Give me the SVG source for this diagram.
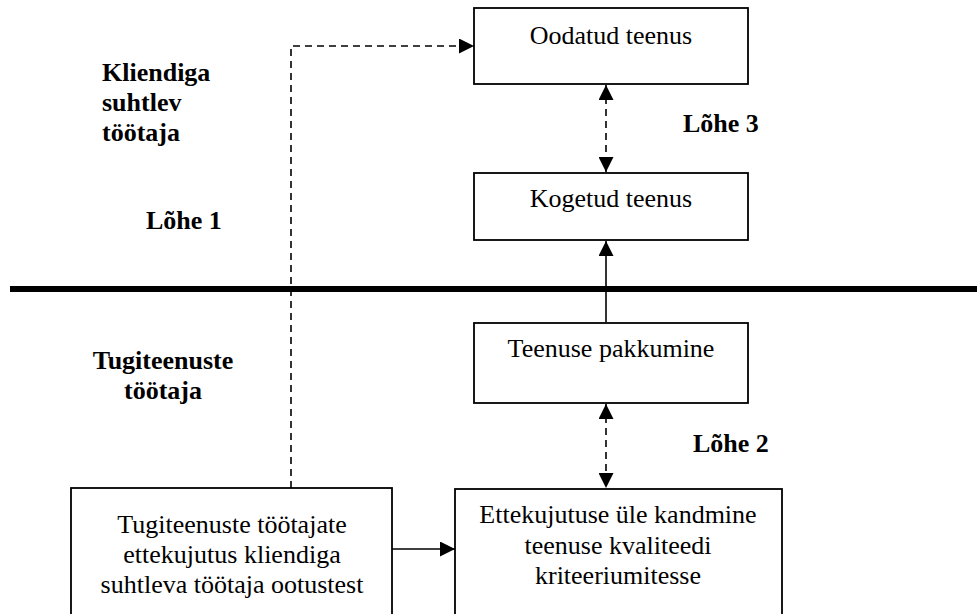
<svg xmlns="http://www.w3.org/2000/svg" width="977" height="614" viewBox="0 0 977 614">
  <style>
    .box { fill: #fff; stroke: #000; stroke-width: 1.8; }
    .txt { font-family: "Liberation Serif", "Times New Roman", serif; font-size: 26px; fill: #000; }
    .mid { text-anchor: middle; }
    .lbl { font-family: "Liberation Serif", "Times New Roman", serif; font-size: 26px; font-weight: bold; fill: #000; }
    .line { fill: none; stroke: #000; stroke-width: 1.6; }
    .dash { stroke-dasharray: 7 5; }
  </style>
  <defs>
    <marker id="arrow" markerUnits="userSpaceOnUse" markerWidth="16" markerHeight="15" refX="15" refY="7.5" orient="auto-start-reverse">
      <path d="M0,0 L15,7.5 L0,15 Z" fill="#000"/>
    </marker>
  </defs>

  <rect width="977" height="614" fill="#fff"/>

  <!-- side labels -->
  <text class="lbl" x="102" y="81">Kliendiga</text>
  <text class="lbl" x="102" y="111">suhtlev</text>
  <text class="lbl" x="102" y="141">töötaja</text>
  <text class="lbl" x="146" y="229">Lõhe 1</text>
  <text class="lbl mid" x="163" y="369">Tugiteenuste</text>
  <text class="lbl mid" x="163" y="399">töötaja</text>
  <text class="lbl" x="683" y="132">Lõhe 3</text>
  <text class="lbl" x="693" y="452">Lõhe 2</text>

  <!-- dividing line between front-line and support staff -->
  <line x1="10" y1="289" x2="977" y2="289" stroke="#000" stroke-width="6"/>

  <!-- connectors -->
  <g id="connectors">
    <polyline class="line dash" points="291,488 291,46 474,46" marker-end="url(#arrow)"/>
    <line class="line dash" x1="606" y1="85" x2="606" y2="172" marker-start="url(#arrow)" marker-end="url(#arrow)"/>
    <line class="line" x1="606" y1="322" x2="606" y2="241" marker-end="url(#arrow)"/>
    <line class="line dash" x1="606" y1="404" x2="606" y2="488" marker-start="url(#arrow)" marker-end="url(#arrow)"/>
    <line class="line" x1="392" y1="549" x2="455" y2="549" marker-end="url(#arrow)"/>
  </g>

  <!-- nodes -->
  <g id="oodatud">
    <rect class="box" x="474" y="8" width="274" height="76"/>
    <text class="txt mid" x="611" y="44">Oodatud teenus</text>
  </g>
  <g id="kogetud">
    <rect class="box" x="474" y="173" width="274" height="67"/>
    <text class="txt mid" x="611" y="207">Kogetud teenus</text>
  </g>
  <g id="pakkumine">
    <rect class="box" x="474" y="323" width="274" height="80"/>
    <text class="txt mid" x="611" y="357">Teenuse pakkumine</text>
  </g>
  <g id="ettekujutus">
    <rect class="box" x="71" y="488" width="321" height="140"/>
    <text class="txt mid" x="232" y="533">Tugiteenuste töötajate</text>
    <text class="txt mid" x="232" y="563">ettekujutus kliendiga</text>
    <text class="txt mid" x="232" y="593">suhtleva töötaja ootustest</text>
  </g>
  <g id="ulekandmine">
    <rect class="box" x="455" y="489" width="327" height="140"/>
    <text class="txt mid" x="618" y="523">Ettekujutuse üle kandmine</text>
    <text class="txt mid" x="618" y="554">teenuse kvaliteedi</text>
    <text class="txt mid" x="618" y="584">kriteeriumitesse</text>
  </g>
</svg>
